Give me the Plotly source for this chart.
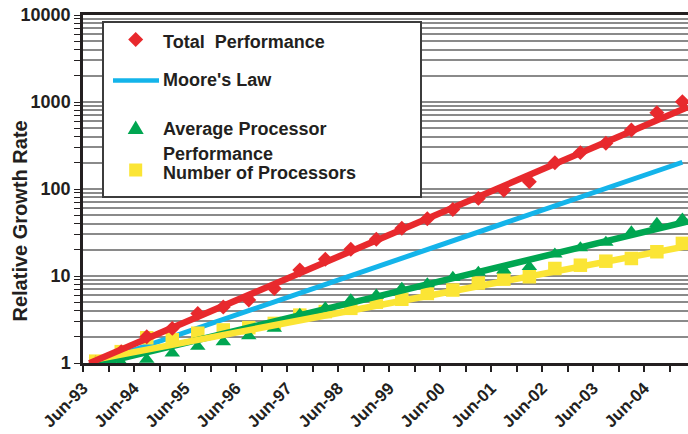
import numpy as np
import plotly.graph_objects as go

# Half-yearly list dates
periods = ["Jun-93", "Nov-93", "Jun-94", "Nov-94", "Jun-95", "Nov-95",
           "Jun-96", "Nov-96", "Jun-97", "Nov-97", "Jun-98", "Nov-98",
           "Jun-99", "Nov-99", "Jun-00", "Nov-00", "Jun-01", "Nov-01",
           "Jun-02", "Nov-02", "Jun-03", "Nov-03", "Jun-04", "Nov-04"]

total_performance = [1.0, 1.35, 2.0, 2.5, 3.7, 4.4, 5.3, 7.2, 11.7, 15.6, 20.3, 26.4,
                     35.3, 45.5, 58, 78, 97, 121, 200, 262, 335, 476, 754, 1007]
moores_law = [1.0, 1.26, 1.59, 2.0, 2.52, 3.17, 4.0, 5.04, 6.35, 8.0, 10.1, 12.7,
              16.0, 20.2, 25.4, 32.0, 40.3, 50.8, 64.0, 80.6, 102, 128, 161, 203]
avg_processor = [0.92, 1.0, 1.1, 1.3, 1.55, 1.75, 2.05, 2.5, 3.6, 4.3, 5.3, 6.0,
                 7.2, 8.1, 9.6, 11.0, 11.7, 12.8, 17.8, 21.0, 24.3, 32, 40, 45]
num_processors = [1.05, 1.35, 1.95, 1.85, 2.2, 2.4, 2.55, 2.85, 3.55, 3.9, 4.25, 5.0,
                  5.4, 6.3, 6.9, 8.3, 9.2, 9.8, 12.2, 13.3, 14.8, 15.9, 19.0, 23.7]

# Exponential trend lines: value at the first and the last list date
trend_total = [1.07, 822]
trend_avg = [0.96, 41]
trend_num = [1.1, 21.5]

year_labels = ["Jun-93", "Jun-94", "Jun-95", "Jun-96", "Jun-97", "Jun-98",
               "Jun-99", "Jun-00", "Jun-01", "Jun-02", "Jun-03", "Jun-04"]
y_major = [1, 10, 100, 1000, 10000]

RED = "#E8292D"
CYAN = "#14B4EA"
GREEN = "#00A651"
YELLOW = "#FBE535"
INK = "#231F20"
FONT = "Liberation Sans, Arial, sans-serif"

W, H = 688, 434
ML, MR, MT, MB = 83, 0, 15, 71

n = len(periods)
xpos = np.arange(n) + 0.5          # points sit in the middle of each half-year slot
x_end = 23.72                       # axis runs on past the last slot


def trend(ends):
    """Straight line on the log axis through the two end values, run to the axis edge."""
    la, lb = np.log10(ends)
    slope = (lb - la) / (xpos[-1] - xpos[0])
    xs = np.linspace(xpos[0] - 0.25, x_end, 60)
    return xs, 10 ** (la + slope * (xs - xpos[0]))


fig = go.Figure()

fig.add_trace(go.Scatter(x=xpos, y=moores_law, mode="lines",
                         line=dict(color=CYAN, width=5), hoverinfo="skip"))

fig.add_trace(go.Scatter(x=xpos, y=num_processors, mode="markers",
                         marker=dict(symbol="square", size=13.5, color=YELLOW)))
fig.add_trace(go.Scatter(x=xpos, y=avg_processor, mode="markers",
                         marker=dict(symbol="triangle-up", size=13.5, color=GREEN)))
fig.add_trace(go.Scatter(x=xpos, y=total_performance, mode="markers",
                         marker=dict(symbol="diamond", size=11.5, color=RED)))

for ends, color in [(trend_avg, GREEN), (trend_num, YELLOW), (trend_total, RED)]:
    tx, ty = trend(ends)
    fig.add_trace(go.Scatter(x=tx, y=ty, mode="lines",
                             line=dict(color=color, width=6.5), hoverinfo="skip"))

# log gridlines at every 1..9 x 10^k, labels only on the decades
y_ticks = [d * 10 ** k for k in range(4) for d in range(1, 10)] + [10000]
y_text = [str(v) if v in y_major else "" for v in y_ticks]

x_ticks = list(range(0, n + 1))
x_text = [year_labels[i // 2] if i % 2 == 0 and i // 2 < len(year_labels) else ""
          for i in x_ticks]


def px(x):
    return (x - ML) / (W - ML - MR)


def py(y):
    return (H - MB - y) / (H - MT - MB)


shapes = []
# legend frame
shapes.append(dict(type="rect", xref="paper", yref="paper",
                   x0=px(103), x1=px(421), y0=py(197), y1=py(22),
                   line=dict(color="#3C3C3C", width=2), fillcolor="white",
                   layer="above"))
# legend keys
shapes.append(dict(type="line", xref="paper", yref="paper",
                   x0=px(113), x1=px(159), y0=py(80.5), y1=py(80.5),
                   line=dict(color=CYAN, width=4.5), layer="above"))


def path(points):
    return "M " + " L ".join(f"{px(a):.5f},{py(b):.5f}" for a, b in points) + " Z"


cx = 135.7
shapes.append(dict(type="path", xref="paper", yref="paper", layer="above",
                   path=path([(cx, 32), (cx + 7.5, 39.5), (cx, 47), (cx - 7.5, 39.5)]),
                   fillcolor=RED, line=dict(width=0)))
shapes.append(dict(type="path", xref="paper", yref="paper", layer="above",
                   path=path([(cx, 120.5), (cx + 8, 134), (cx - 8, 134)]),
                   fillcolor=GREEN, line=dict(width=0)))
shapes.append(dict(type="path", xref="paper", yref="paper", layer="above",
                   path=path([(cx - 6.5, 163.5), (cx + 6.5, 163.5),
                              (cx + 6.5, 176.5), (cx - 6.5, 176.5)]),
                   fillcolor=YELLOW, line=dict(width=0)))

legend_font = dict(family=FONT, size=18, color=INK, weight="bold")
annotations = []
for text, yy in [("Total  Performance", 41.5), ("Moore's Law", 80.5),
                 ("Average Processor", 128.5), ("Performance", 153.5),
                 ("Number of Processors", 173)]:
    annotations.append(dict(text=text, xref="paper", yref="paper",
                            x=px(161), y=py(yy), xanchor="left", yanchor="middle",
                            showarrow=False, font=legend_font))

annotations.append(dict(text="Relative Growth Rate", xref="paper", yref="paper",
                        x=px(19.5), y=py(221), xanchor="center", yanchor="middle",
                        textangle=-90, showarrow=False,
                        font=dict(family=FONT, size=20, color=INK, weight="bold")))

fig.update_layout(
    width=W, height=H,
    margin=dict(l=ML, r=MR, t=MT, b=MB, pad=0),
    paper_bgcolor="white", plot_bgcolor="white",
    showlegend=False,
    shapes=shapes, annotations=annotations,
    xaxis=dict(range=[0, x_end], tickmode="array", tickvals=x_ticks, ticktext=x_text,
               tickangle=-45, ticks="outside", ticklen=6, tickwidth=1.5,
               tickcolor=INK, showline=True, linecolor=INK, linewidth=2.5,
               mirror=True, showgrid=False, zeroline=False,
               tickfont=dict(family=FONT, size=17, color=INK, weight="bold")),
    yaxis=dict(type="log", range=[0, 4], tickmode="array", tickvals=y_ticks,
               ticktext=y_text, ticks="outside", ticklen=6, tickwidth=1.2,
               tickcolor=INK, showline=True, linecolor=INK, linewidth=2.5,
               showgrid=True, gridcolor="#8A8A8A", gridwidth=1.6, zeroline=False,
               tickfont=dict(family=FONT, size=18, color=INK, weight="bold")),
)

fig.write_html("out.html")
